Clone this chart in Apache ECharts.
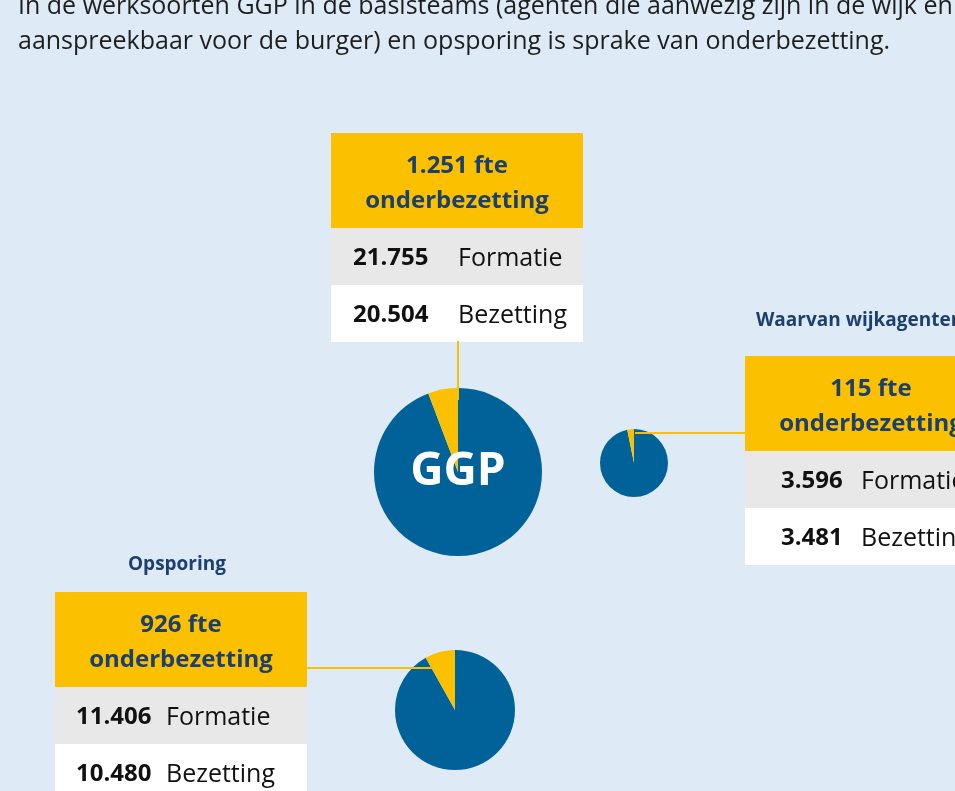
<!DOCTYPE html>
<html><head><meta charset="utf-8">
<script src="https://cdn.jsdelivr.net/npm/echarts@6/dist/echarts.min.js"></script>
<style>html,body{margin:0;padding:0;background:#deebf7;}#c{width:955px;height:791px;}</style>
</head><body><div id="c"></div>
<script>
// Data
const groups = ['GGP', 'Wijkagenten', 'Opsporing'];
const groupLabels = ['', 'Waarvan wijkagenten', 'Opsporing'];
const formatie = [21755, 3596, 11406];
const bezetting = [20504, 3481, 10480];
const onderbezetting = [1251, 115, 926];
const rowLabels = ['Formatie', 'Bezetting'];
const titleLines = [
  'In de werksoorten GGP in de basisteams (agenten die aanwezig zijn in de wijk en',
  'aanspreekbaar voor de burger) en opsporing is sprake van onderbezetting.'
];

// Layout (presentation only)
const layout = [
  {center: [458, 472], r: 84, box: [331, 133], numX: 353, lblX: 458, line: [[458, 341], [458, 400]], labelPos: null, inner: 'GGP'},
  {center: [634, 463], r: 34, box: [745, 356], numX: 781, lblX: 861, line: [[635, 433], [745, 433]], labelPos: [756, 321], inner: ''},
  {center: [455, 710], r: 60, box: [55, 592], numX: 76, lblX: 166, line: [[307, 668], [432, 668]], labelPos: [177, 565], inner: ''}
];
const BOXW = 252, YH = 95, RH = 57;
const YELLOW = '#fbc100', BLUE = '#006298', NAVY = '#1c3f6e';
const FONT = '"Open Sans", sans-serif';
const fmt = v => String(v).replace(/\B(?=(\d{3})+(?!\d))/g, '.');

const chart = echarts.init(document.getElementById('c'));
const graphic = [];
titleLines.forEach((t, i) => graphic.push({type: 'text', left: 18, top: -6 + i * 35, z: 10,
  style: {text: t, font: '25px ' + FONT, fill: '#1e1e1e'}}));

const series = [];
groups.forEach((g, i) => {
  const L = layout[i];
  const [bx, by] = L.box;
  graphic.push({type: 'line', z: 20, shape: {x1: L.line[0][0], y1: L.line[0][1], x2: L.line[1][0], y2: L.line[1][1]},
    style: {stroke: YELLOW, lineWidth: 2}});
  graphic.push({type: 'rect', z: 5, shape: {x: bx, y: by, width: BOXW, height: YH}, style: {fill: YELLOW}});
  graphic.push({type: 'rect', z: 5, shape: {x: bx, y: by + YH, width: BOXW, height: RH}, style: {fill: '#e8e8e8'}});
  graphic.push({type: 'rect', z: 5, shape: {x: bx, y: by + YH + RH, width: BOXW, height: RH}, style: {fill: '#ffffff'}});
  graphic.push({type: 'text', z: 6, x: bx + BOXW / 2, y: by + YH / 2 + 3,
    style: {text: fmt(onderbezetting[i]) + ' fte\nonderbezetting', font: 'bold 24px ' + FONT, fill: NAVY,
      align: 'center', verticalAlign: 'middle', lineHeight: 35}});
  [formatie[i], bezetting[i]].forEach((v, k) => {
    const cy = by + YH + RH * k + RH / 2 + 2;
    graphic.push({type: 'text', z: 6, x: L.numX, y: cy,
      style: {text: fmt(v), font: 'bold 24px ' + FONT, fill: '#111', verticalAlign: 'middle'}});
    graphic.push({type: 'text', z: 6, x: L.lblX, y: cy,
      style: {text: rowLabels[k], font: '25px ' + FONT, fill: '#111', verticalAlign: 'middle'}});
  });
  if (L.labelPos) graphic.push({type: 'text', z: 6, x: L.labelPos[0], y: L.labelPos[1],
    style: {text: groupLabels[i], font: 'bold 19px ' + FONT, fill: NAVY, verticalAlign: 'middle',
      align: i === 2 ? 'center' : 'left'}});
  series.push({
    type: 'pie', center: L.center, radius: [0, L.r], startAngle: 90, clockwise: true, silent: true,
    z: 10, label: {show: !!L.inner, position: 'center', formatter: L.inner, color: '#fff',
      fontFamily: FONT, fontWeight: 'bold', fontSize: 46},
    labelLine: {show: false}, emphasis: {disabled: true},
    data: [
      {value: bezetting[i], name: 'Bezetting', itemStyle: {color: BLUE}},
      {value: onderbezetting[i], name: 'Onderbezetting', itemStyle: {color: YELLOW}}
    ]
  });
});

chart.setOption({backgroundColor: '#deebf7', animation: false, graphic: graphic, series: series});
</script></body></html>
